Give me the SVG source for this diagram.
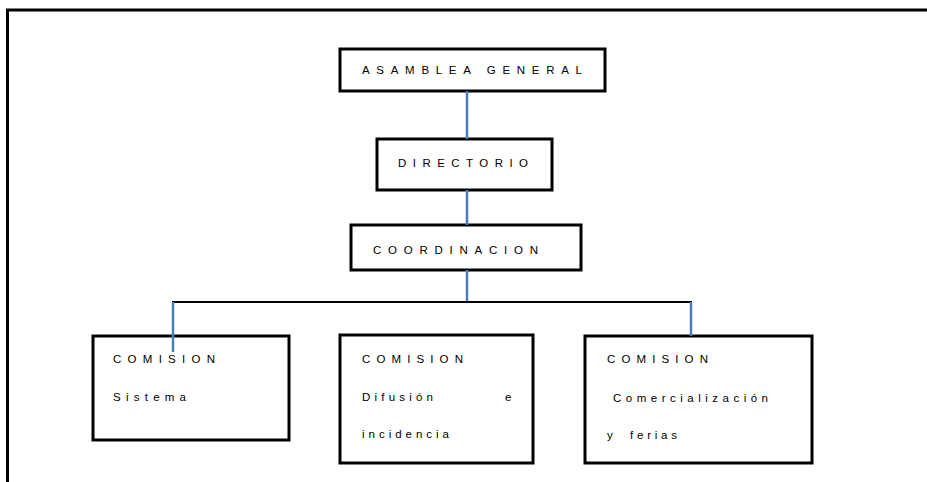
<svg xmlns="http://www.w3.org/2000/svg" width="927" height="482" viewBox="0 0 927 482">
<style>
.box{fill:#fff;stroke:#000;stroke-width:3}
.t{font-family:"Liberation Sans",Arial,sans-serif;font-size:11.5px;fill:#000}
.blue{stroke:#4a7ebb;stroke-width:2.5;fill:none}
.blk{stroke:#000;stroke-width:2;fill:none}
</style>
<rect width="927" height="482" fill="#fff"/>
<path d="M7.5 482 V10 H927" stroke="#000" stroke-width="3" fill="none"/>
<g id="asamblea">
<rect class="box" x="340" y="49" width="265" height="42"/>
<text class="t" x="362" y="74" textLength="220" lengthAdjust="spacing">ASAMBLEA GENERAL</text>
</g>
<g id="directorio">
<rect class="box" x="377" y="139" width="175" height="51"/>
<text class="t" x="398" y="167" textLength="130" lengthAdjust="spacing">DIRECTORIO</text>
</g>
<g id="coordinacion">
<rect class="box" x="351" y="225" width="230" height="45"/>
<text class="t" x="373" y="254" textLength="165" lengthAdjust="spacing">COORDINACION</text>
</g>
<g id="com-sistema">
<rect class="box" x="93" y="336" width="196" height="104"/>
<text class="t" x="113" y="363" textLength="102" lengthAdjust="spacing">COMISION</text>
<text class="t" x="113" y="401" textLength="73" lengthAdjust="spacing">Sistema</text>
</g>
<g id="com-difusion">
<rect class="box" x="340" y="335" width="193" height="128"/>
<text class="t" x="362" y="363" textLength="101" lengthAdjust="spacing">COMISION</text>
<text class="t" x="362" y="401" textLength="71" lengthAdjust="spacing">Difusión</text>
<text class="t" x="505" y="401">e</text>
<text class="t" x="362" y="438" textLength="87" lengthAdjust="spacing">incidencia</text>
</g>
<g id="com-comercializacion">
<rect class="box" x="585" y="336" width="227" height="127"/>
<text class="t" x="607" y="363" textLength="101" lengthAdjust="spacing">COMISION</text>
<text class="t" x="613" y="402" textLength="155" lengthAdjust="spacing">Comercialización</text>
<text class="t" x="607" y="439">y</text>
<text class="t" x="630" y="439" textLength="47" lengthAdjust="spacing">ferias</text>
</g>
<g id="connectors">
<path class="blue" d="M467 91 V139"/>
<path class="blue" d="M467 190 V225"/>
<path class="blue" d="M467 270 V302"/>
<path class="blk" d="M172 302 H692"/>
<path class="blue" d="M173 302 V352"/>
<path class="blue" d="M691 302 V336"/>
</g>
</svg>
